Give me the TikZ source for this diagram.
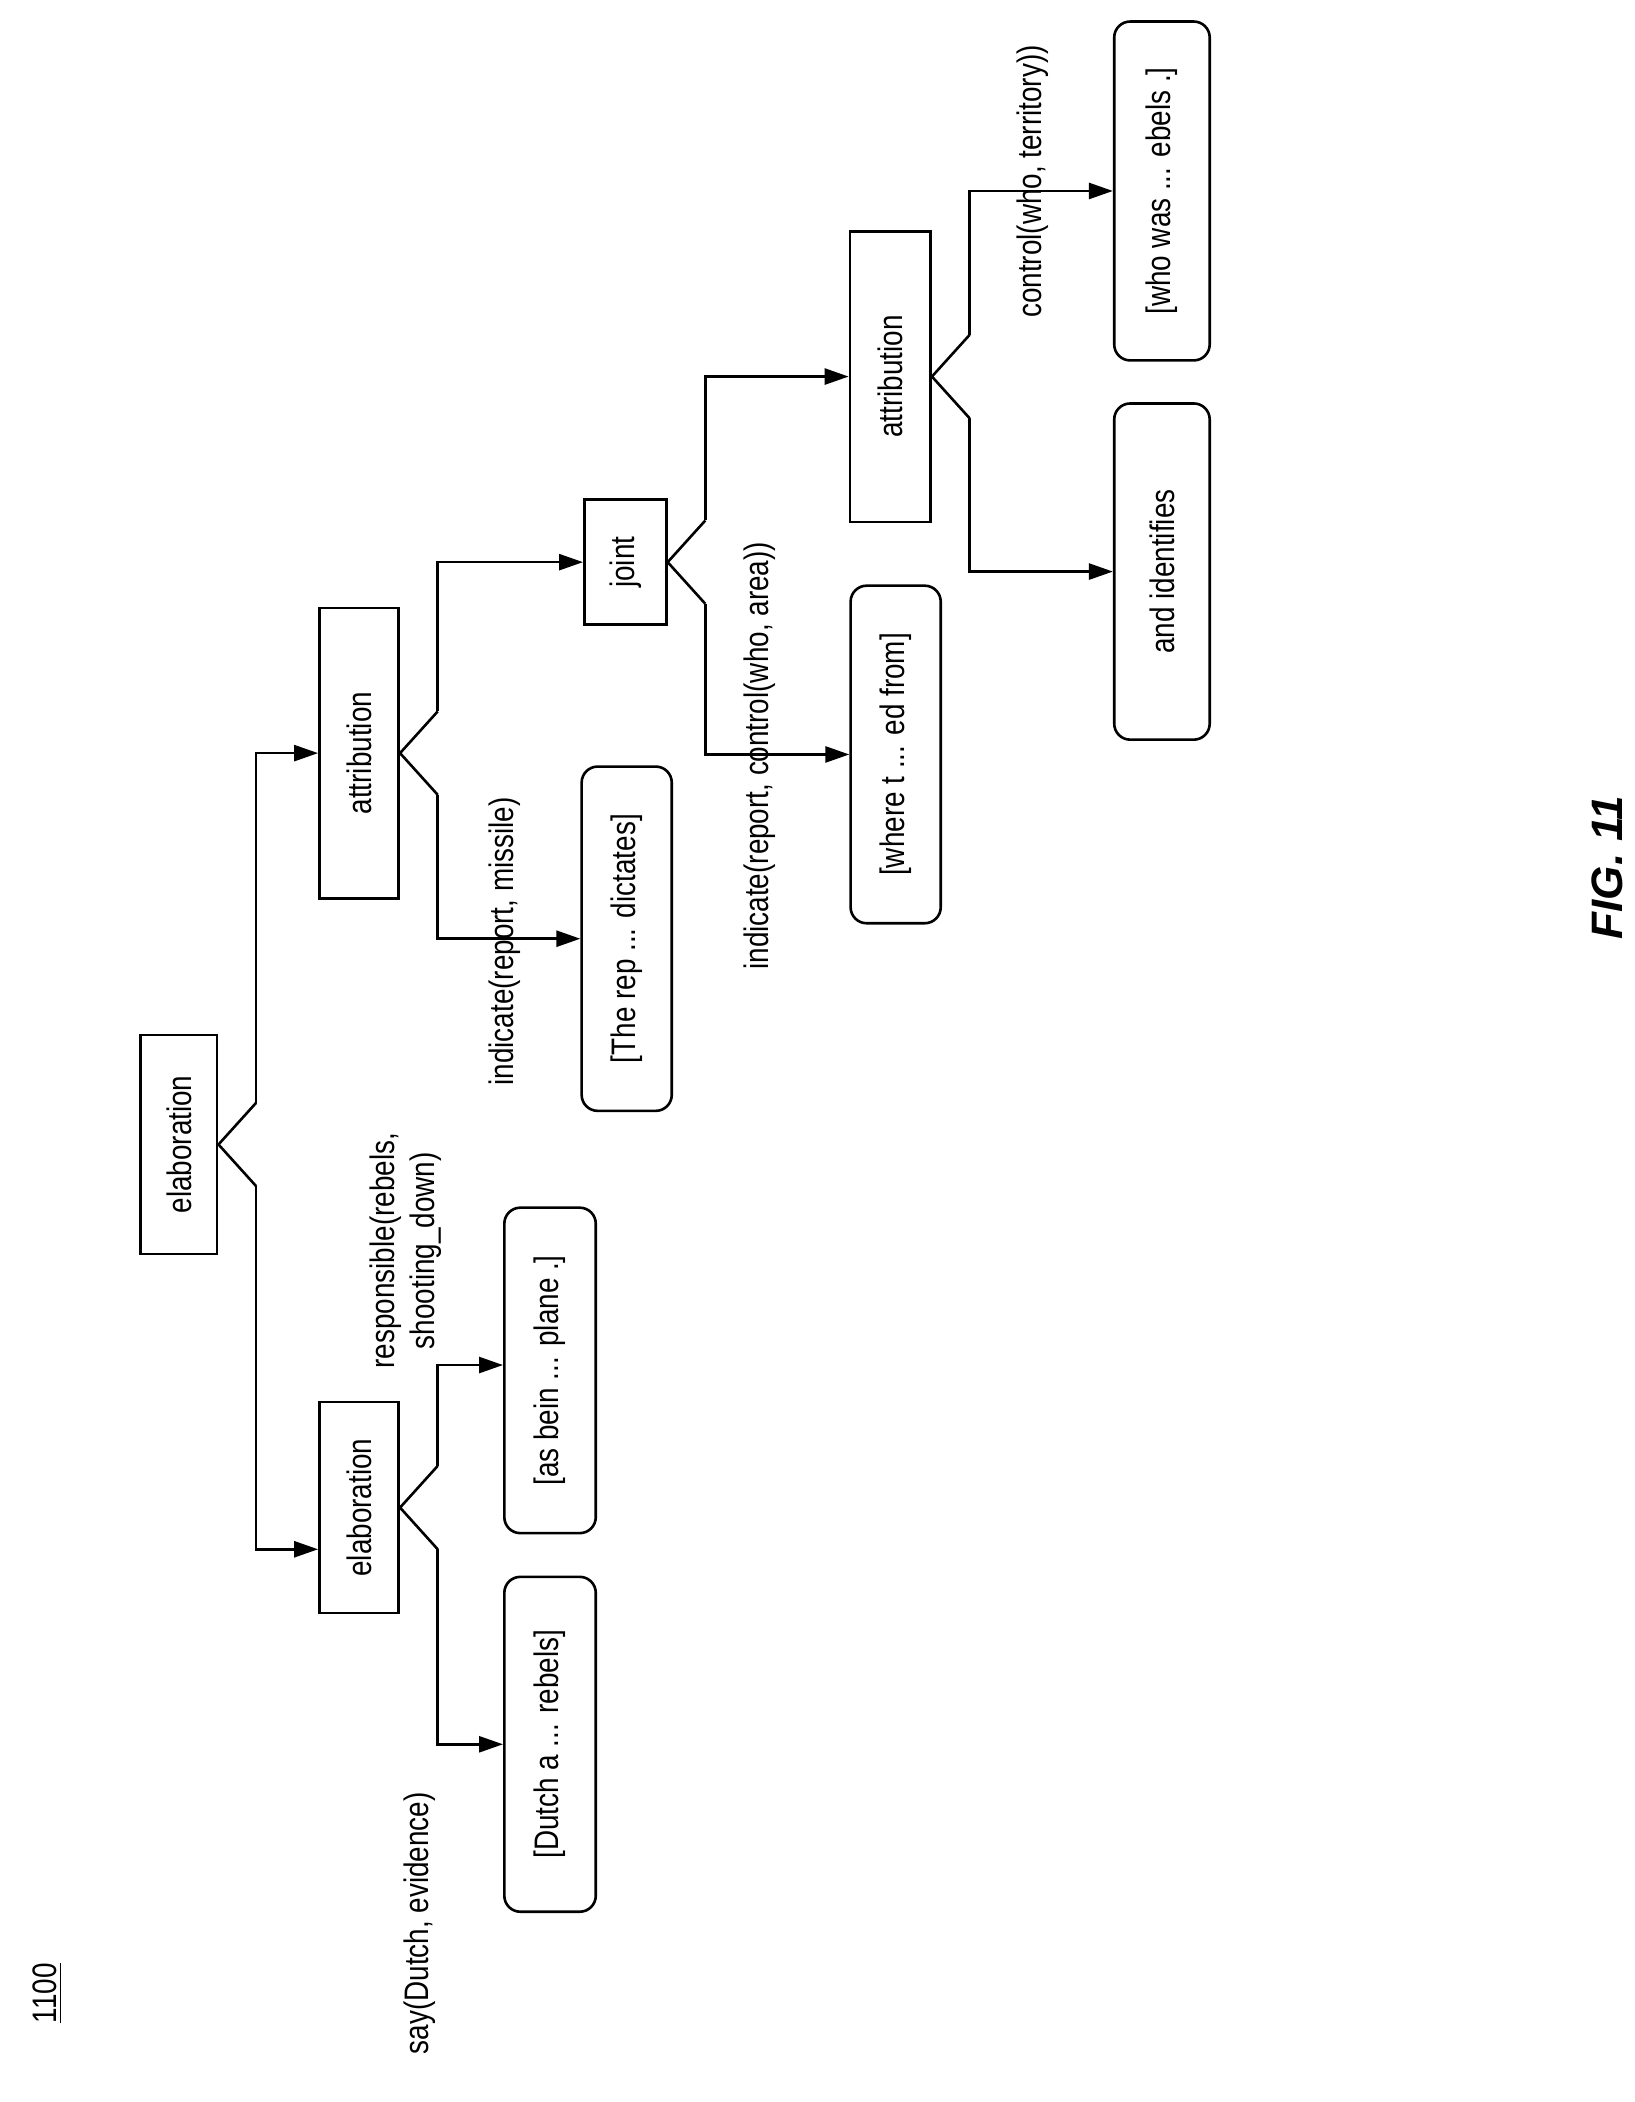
\documentclass[tikz,border=0pt]{standalone}
\usepackage{fontspec}
\setmainfont{Liberation Sans}
\newfontfamily\nar[FakeStretch=0.82]{Liberation Sans}
\usetikzlibrary{calc,arrows.meta}
\begin{document}
\begin{tikzpicture}[x=0.6725pt,y=-0.6725pt,
  box/.style={draw,line width=1.3pt,rotate=90,font=\nar\fontsize{17}{19}\selectfont,inner sep=0pt},
  leaf/.style={box,rounded corners=8pt},
  lbl/.style={rotate=90,font=\nar\fontsize{17}{20}\selectfont,align=center,inner sep=0pt},
  ln/.style={line width=1.3pt},
  arr/.style={ln,-{Triangle[length=12pt,width=8pt]}}]
\useasboundingbox (0,0) rectangle (1215,1563);
\def\bx#1#2#3#4#5#6{\node[#1,minimum width=#5*0.6725pt,minimum height=#6*0.6725pt] (#2) at (#3,#4)}
\bx{box}{root}{133}{851}{163}{57}{elaboration};
\bx{box}{elab}{267}{1121}{157}{59}{elaboration};
\bx{box}{attA}{267}{560}{216}{59}{attribution};
\bx{box}{joint}{465}{418}{93}{61}{joint};
\bx{box}{attB}{662}{280}{216}{60}{attribution};
\bx{leaf}{dutch}{409}{1297}{249}{68}{[Dutch a ... rebels]};
\bx{leaf}{asbein}{409}{1019}{242}{68}{[as bein ... plane .]};
\bx{leaf}{therep}{466}{698}{256}{67}{[The rep ... dictates]};
\bx{leaf}{where}{666}{561}{251}{67}{[where t ... ed from]};
\bx{leaf}{andid}{864}{425}{250}{71}{and identifies};
\bx{leaf}{whowas}{864}{142}{252}{71}{[who was ... ebels .]};
% connectors
\foreach \s/\up/\upy/\dn/\dny in {root/attA/560/elab/1152, elab/asbein/1015/dutch/1297, attA/joint/418/therep/698, joint/attB/280/where/561, attB/whowas/142/andid/425}{
  \coordinate (a) at ($(\s.south)+(28,-31)$);
  \coordinate (b) at ($(\s.south)+(28,31)$);
  \draw[ln] (a) -- (\s.south) -- (b);
  \draw[arr] (a) -- (a|-0,\upy) -- (\up.north|-0,\upy);
  \draw[arr] (b) -- (b|-0,\dny) -- (\dn.north|-0,\dny);
}
% labels
\node[lbl] (l1) at (312,1430) {say(Dutch, evidence)};
\node[lbl] (l2) at (302,930) {responsible(rebels,\\shooting\_down)};
\node[lbl] (l3) at (375,700) {indicate(report, missile)};
\node[lbl] (l4) at (565,562) {indicate(report, control(who, area))};
\node[lbl] (l5) at (768,135) {control(who, territory))};
\node[lbl,font=\nar\fontsize{17}{20}\selectfont] (num) at (35,1482) {\underline{1100}};
\node[rotate=90,font=\bfseries\itshape\fontsize{22}{24}\selectfont] (fig) at (1195,645) {FIG. 11};
\end{tikzpicture}
\end{document}
